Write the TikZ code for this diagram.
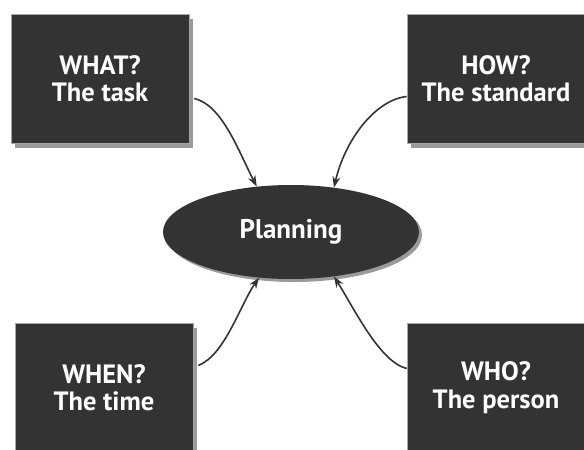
\documentclass[tikz,border=0pt]{standalone}
\usepackage{fontspec}
\setmainfont{PT Sans}
\usetikzlibrary{shapes.geometric,shadows,arrows.meta}
\definecolor{boxfill}{HTML}{333333}
\definecolor{shade}{HTML}{9A9A9A}
\tikzset{
  qbox/.style={rectangle, fill=boxfill, draw=gray!70, line width=0.6pt,
    minimum width=178pt, minimum height=129pt, inner sep=0pt,
    text=white, font=\bfseries\fontsize{26.5}{27.5}\selectfont, align=center,
    drop shadow={shadow xshift=4pt, shadow yshift=-5pt, fill=shade, opacity=1}},
  hub/.style={ellipse, fill=boxfill, minimum width=256pt, minimum height=94pt,
    inner sep=0pt, text=white, font=\bfseries\fontsize{27}{28}\selectfont,
    drop shadow={shadow xshift=3pt, shadow yshift=-3pt, fill=shade, opacity=1}},
  link/.style={line width=1.6pt, draw=boxfill,
    -{Stealth[length=11pt,width=8pt]}}
}
\begin{document}
\begin{tikzpicture}[x=1pt,y=-1pt]
  \useasboundingbox (0,0) rectangle (584,450);
  \node[qbox] (what) at (100,78.5) {WHAT?\\The task};
  \node[qbox] (how)  at (496,78.5) {HOW?\\The standard};
  \node[qbox] (when) at (104,387.5) {WHEN?\\The time};
  \node[qbox] (who)  at (496,387.5) {WHO?\\The person};
  \node[hub] (plan) at (291,232) {Planning};

  \draw[link] ([xshift=5pt,yshift=-20pt]what.east)
    .. controls (222,105) and (238,150) .. (plan.127);
  \draw[link] ([yshift=-18pt]how.west)
    .. controls (375,100) and (345,140) .. (plan.46);
  \draw[link] ([xshift=5pt,yshift=22pt]when.east)
    .. controls (225,355) and (240,305) .. (plan.235);
  \draw[link] ([yshift=19pt]who.west)
    .. controls (380,362) and (355,310) .. (plan.314);
\end{tikzpicture}
\end{document}
